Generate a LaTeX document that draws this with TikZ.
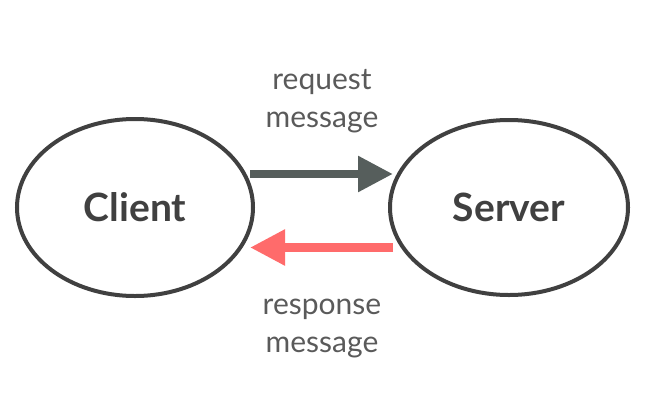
\documentclass[tikz,border=0pt]{standalone}
\usepackage{fontspec}
\setmainfont{Lato}
\usepackage{xcolor}
\usetikzlibrary{
  arrows.meta,
  shapes.geometric
}
\definecolor{edgegray}{HTML}{404040}
\definecolor{textgray}{HTML}{5A5A5A}
\definecolor{reqgray}{HTML}{565E5C}
\definecolor{resred}{HTML}{FF6B6B}

\begin{document}
\begin{tikzpicture}[x=1pt, y=-1pt,
    host/.style={ellipse, draw=edgegray, line width=4pt, text=edgegray,
      font=\fontsize{39}{44}\selectfont\bfseries},
    msg/.style={align=center, text=textgray, inner sep=0pt,
      font=\fontsize{30}{38}\selectfont},
    flow/.style={line width=8.5pt, -{Triangle[length=35pt, width=34pt]}}]
  \def\Xc{135};
  \def\Xs{509};
  \def\Yo{207.5};
  \def\Yreq{174};
  \def\Yres{247.5};
  \useasboundingbox (0, 0) rectangle (653, 410);
         \node[host, minimum width=236pt, minimum height=177pt] (client) at (\Xc, \Yo) {Client};
         \node[host, minimum width=238pt, minimum height=175pt] (server) at (\Xs, \Yo) {Server};

        \coordinate (reqfrom) at (250, \Yreq);
        \coordinate (reqto) at (393, \Yreq);
        \coordinate (resfrom) at (393, \Yres);
        \coordinate (resto) at (250, \Yres);

	\draw[flow, reqgray] (reqfrom) -- (reqto);
	\draw[flow, resred] (resfrom) -- (resto);

        \node[msg] (reqlabel) at (322, 101) {request\\message};
        \node[msg] (reslabel) at (322, 328) {response\\message};

\end{tikzpicture}
\end{document}
